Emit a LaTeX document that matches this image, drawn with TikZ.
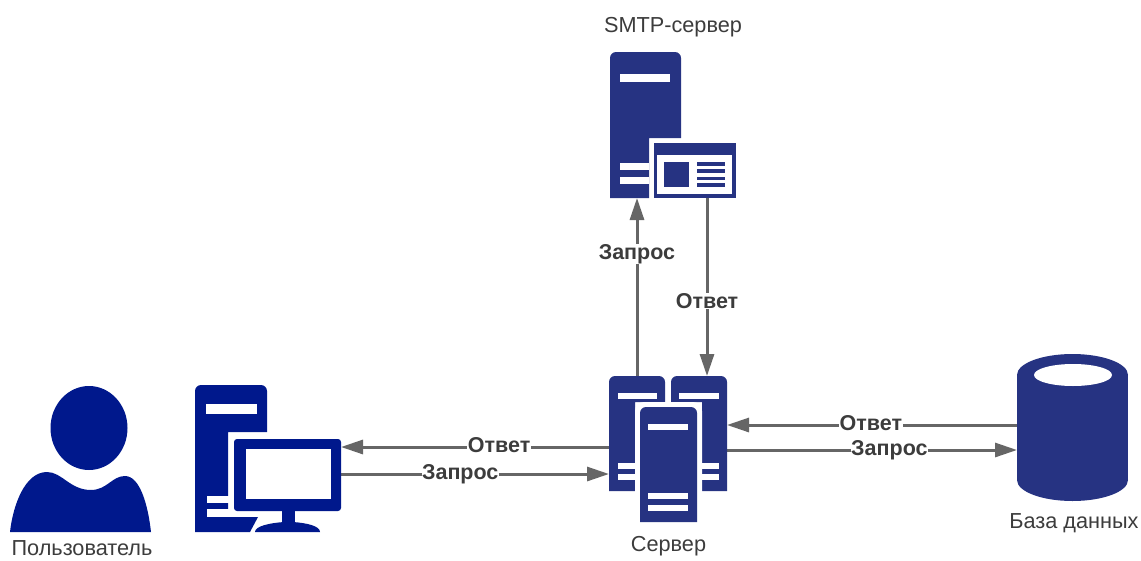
\documentclass[tikz,border=0pt]{standalone}
\usepackage{fontspec}
\setmainfont{Liberation Sans}
\usetikzlibrary{arrows.meta}
\definecolor{navyA}{RGB}{38,51,130}
\definecolor{navyB}{RGB}{0,24,140}
\definecolor{wire}{RGB}{102,102,102}
\definecolor{ink}{RGB}{60,60,60}
\tikzset{
  iconbox/.style={inner sep=0pt,outer sep=0pt,minimum width=#1},
  wirearrow/.style={draw=wire,line width=3pt,-{Triangle[length=22pt,width=14pt,fill=wire]}},
  wirelabel/.style={fill=white,inner sep=0.5pt,text=ink,font=\fontsize{21.5}{23}\selectfont\bfseries},
  caption/.style={text=ink,inner sep=0pt,anchor=base,font=\fontsize{21.7}{24}\selectfont},
  fillA/.style={fill=navyA,draw=none},
  fillB/.style={fill=navyB,draw=none},
  blank/.style={fill=white,draw=none},
}
\begin{document}
\begin{tikzpicture}[x=1pt,y=-1pt]
\useasboundingbox (0,0) rectangle (1141,560);
% --- anchor boxes
\node[iconbox=56pt,minimum height=115pt] (srvL) at (637,433.5) {};
\node[iconbox=56pt,minimum height=115pt] (srvR) at (699,433.5) {};
\node[iconbox=71pt,minimum height=146pt] (smtpT) at (645.5,125) {};
\node[iconbox=82pt,minimum height=55pt] (smtpW) at (695,170.5) {};
\node[iconbox=107pt,minimum height=93pt] (pc) at (287.5,485.5) {};
\node[iconbox=111pt,minimum height=147pt] (db) at (1072.5,427.5) {};
% --- connectors
\draw[wirearrow] (srvL.north) -- (srvL.north |- smtpT.south)
  node[wirelabel,pos=0.69,yshift=-1pt] (lq1) {Запрос};
\draw[wirearrow] ([xshift=12pt]smtpW.south) -- ([xshift=12pt]smtpW.south |- srvR.north)
  node[wirelabel,pos=0.58] (la1) {Ответ};
\draw[wirearrow] ([yshift=-13.5pt]srvL.west) -- ([yshift=-13.5pt]srvL.west -| pc.east)
  node[wirelabel,pos=0.41,yshift=1.5pt] (la2) {Ответ};
\draw[wirearrow] ([yshift=-40.5pt]srvL.west -| pc.east) -- ([yshift=-40.5pt]srvL.west)
  node[wirelabel,pos=0.445] (lq2) {Запрос};
\draw[wirearrow] ([yshift=2.5pt]db.west) -- ([yshift=2.5pt]db.west -| srvR.east)
  node[wirelabel,pos=0.504,yshift=1.5pt] (la3) {Ответ};
\draw[wirearrow] ([yshift=-22.5pt]db.west -| srvR.east) -- ([yshift=-22.5pt]db.west)
  node[wirelabel,pos=0.56] (lq3) {Запрос};
% --- SMTP server
\fill[fillA] (610,198) -- (610,58) arc[start angle=180,end angle=270,radius=6] -- (675,52) arc[start angle=270,end angle=360,radius=6] -- (681,138) -- (649,138) -- (649,198) -- cycle;
\fill[blank] (620,74) rectangle (670,82);
\fill[blank] (620,163) rectangle (649,170);
\fill[blank] (620,177) rectangle (649,184);
\fill[fillA] (654,143) rectangle (736,198);
\fill[blank] (657,155) rectangle (732,194);
\fill[fillA] (664,162) rectangle (689,187);
\foreach \a/\b in {162/166,169/173,177/180,183/187} \fill[fillA] (697,\a) rectangle (725,\b);
% --- Server group
\fill[fillA] (609,491) -- (609,382) arc[start angle=180,end angle=270,radius=6] -- (659,376) arc[start angle=270,end angle=360,radius=6] -- (665,402) -- (635,402) -- (635,491) -- cycle;
\fill[fillA] (727,491) -- (727,382) arc[start angle=0,end angle=-90,radius=6] -- (677,376) arc[start angle=-90,end angle=-180,radius=6] -- (671,402) -- (702,402) -- (702,491) -- cycle;
\fill[blank] (618,393) rectangle (657,399);
\fill[blank] (679,393) rectangle (719,399);
\fill[blank] (618,463) rectangle (635,469);
\fill[blank] (618,474) rectangle (635,480);
\fill[blank] (702,463) rectangle (719,469);
\fill[blank] (702,474) rectangle (719,480);
\fill[blank,rounded corners=9pt] (635,526) -- (635,402) -- (702,402) -- (702,526) -- cycle;
\fill[fillA] (640,522) -- (640,413) arc[start angle=180,end angle=270,radius=6] -- (691,407) arc[start angle=270,end angle=360,radius=6] -- (697,522) -- cycle;
\fill[blank] (648,424) rectangle (688,430);
\fill[blank] (648,493) rectangle (688,499);
\fill[blank] (648,505) rectangle (688,511);
% --- Database
\fill[fillA] (1072.5,375) ellipse[x radius=55.5,y radius=21];
\fill[fillA] (1072.5,480) ellipse[x radius=55.5,y radius=21];
\fill[fillA] (1017,375) rectangle (1128,480);
\fill[blank] (1073,375) ellipse[x radius=39,y radius=11];
% --- User
\fill[fillB] (89,428) ellipse[x radius=38.5,y radius=42];
\fill[fillB] (10,532) .. controls (13,505) and (25,472) .. (47,472)
  .. controls (62,472) and (70,490) .. (91,490)
  .. controls (107,490) and (112,476) .. (125,476)
  .. controls (140,476) and (148,505) .. (151,532) -- cycle;
% --- Computer
\fill[fillB] (195,532) -- (195,391) arc[start angle=180,end angle=270,radius=6] -- (261,385) arc[start angle=270,end angle=360,radius=6] -- (267,432) -- (228,432) -- (228,517) -- (258,517) -- (250,532) -- cycle;
\fill[blank] (206,404) rectangle (257,414);
\fill[blank] (207,496) rectangle (229,503);
\fill[blank] (207,509) rectangle (258,517);
\fill[fillB,rounded corners=3pt] (234,439) rectangle (341,511);
\fill[blank] (246,449) rectangle (331,499);
\fill[fillB] (282,511) rectangle (295,525);
\fill[fillB] (255,532) .. controls (255,526) and (270,523) .. (284,522) -- (293,522) .. controls (307,523) and (320,526) .. (320,532) -- cycle;
% --- Captions
\node[caption] (capS) at (673,32) {SMTP-сервер};
\node[caption] (capV) at (668.5,551) {Сервер};
\node[caption] (capD) at (1074,528) {База данных};
\node[caption] (capU) at (82,555) {Пользователь};
\end{tikzpicture}
\end{document}
